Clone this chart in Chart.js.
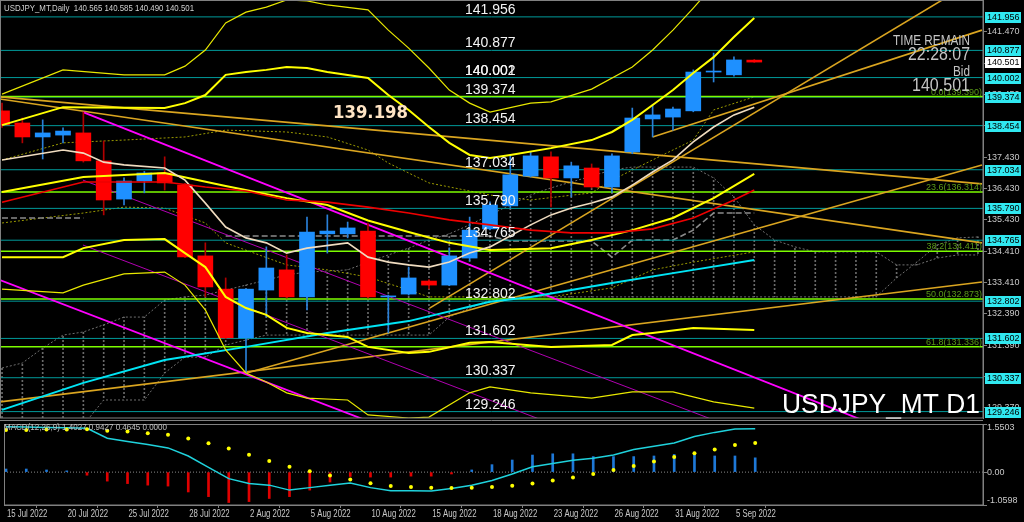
<!DOCTYPE html>
<html><head><meta charset="utf-8">
<script src="https://cdn.jsdelivr.net/npm/chart.js@4.4.0/dist/chart.umd.min.js"></script>
<style>
html,body{margin:0;padding:0;background:#000;width:1024px;height:522px;overflow:hidden}
canvas{position:absolute;left:0;display:block}
#c1{top:0}#c2{top:420px}
</style></head><body>
<canvas id="c1" width="1024" height="420"></canvas>
<canvas id="c2" width="1024" height="102"></canvas>
<script>
// ---------- DATA ----------
const dates = ['15 Jul 2022','18 Jul 2022','19 Jul 2022','20 Jul 2022','21 Jul 2022','22 Jul 2022','25 Jul 2022','26 Jul 2022','27 Jul 2022','28 Jul 2022','29 Jul 2022','1 Aug 2022','2 Aug 2022','3 Aug 2022','4 Aug 2022','5 Aug 2022','8 Aug 2022','9 Aug 2022','10 Aug 2022','11 Aug 2022','12 Aug 2022','15 Aug 2022','16 Aug 2022','17 Aug 2022','18 Aug 2022','19 Aug 2022','22 Aug 2022','23 Aug 2022','24 Aug 2022','25 Aug 2022','26 Aug 2022','29 Aug 2022','30 Aug 2022','31 Aug 2022','1 Sep 2022','2 Sep 2022','5 Sep 2022','6 Sep 2022'];
const dateTickIdx = [0,3,6,9,12,15,18,21,24,27,30,33,36];
const open  = [138.93,138.54,138.09,138.15,138.22,137.32,136.09,136.67,136.93,136.54,134.26,133.19,131.62,133.16,133.81,132.94,134.97,134.97,135.06,132.94,133.03,133.45,133.32,134.19,135.13,135.87,136.83,137.45,136.77,137.09,136.48,137.61,138.67,138.73,138.93,140.18,140.09,140.565];
const high  = [139.18,138.70,138.64,138.38,138.89,137.96,136.77,136.98,137.45,136.60,134.68,133.55,133.20,134.55,134.29,135.51,135.58,135.35,135.32,133.00,133.90,133.50,134.52,135.51,136.00,137.51,137.60,137.61,137.28,137.22,137.55,139.02,139.12,139.05,140.25,140.79,140.67,140.585];
const low   = [138.40,137.90,137.38,137.90,137.28,135.58,135.90,136.29,136.38,134.20,132.94,131.60,130.49,132.29,132.90,132.52,134.35,134.84,132.90,131.78,133.00,133.20,133.30,134.10,135.10,135.80,136.80,135.84,136.16,136.45,136.30,137.55,138.09,138.31,138.90,139.86,140.05,140.490];
const close = [138.48,138.09,138.22,138.28,137.32,136.06,136.67,136.93,136.61,134.23,133.26,131.62,133.19,133.87,132.94,135.03,135.06,135.16,132.94,132.97,133.55,133.32,134.26,135.09,135.90,136.87,137.48,136.77,137.16,136.48,137.48,138.70,138.80,138.99,140.18,140.21,140.57,140.501];

const levels = [141.956,140.877,140.002,139.374,138.454,137.034,135.790,134.765,132.802,131.602,130.337,129.246];
const levelTexts = ['141.956','140.877','140.002','139.374','138.454','137.034','135.790','134.765','132.802','131.602','130.337','129.246'];
const fibLevels = [139.390,136.314,134.411,132.873,131.336];
const fibNames = ['0.0','23.6','38.2','50.0','61.8'];
const yTicks = [141.470,140.450,139.450,138.450,137.430,136.430,135.430,134.410,133.410,132.390,131.390,130.370,129.370];
const bidPrice = 140.501;

// Bollinger bands [bar index, price]
const bbUp3 = [[0,139.47],[3,140.25],[6,140.09],[8,140.09],[9,140.37],[10,140.89],[11,141.76],[12,142.11],[13,142.27],[14,142.50],[15,142.47],[16,142.34],[18,142.18],[19,141.53],[20,140.95],[21,140.31],[22,139.60],[23,139.18],[24,138.89],[26,139.18],[27,139.22],[29,139.63],[31,140.34],[32,140.89],[33,141.53],[34,142.24],[35,142.98],[37,144.40]];
const bbUp2 = [[0,138.47],[3,139.05],[8,139.02],[9,139.18],[10,139.44],[11,140.09],[12,140.18],[13,140.25],[14,140.34],[15,140.31],[16,140.18],[18,139.99],[19,139.44],[20,138.96],[21,138.41],[22,137.90],[23,137.51],[24,137.41],[25,137.51],[27,137.73],[29,137.99],[30,138.25],[31,138.64],[32,139.12],[33,139.60],[34,140.15],[35,140.66],[36,141.31],[37,141.92]];
const bbMid = [[0,136.32],[4,136.80],[8,136.93],[11,136.51],[14,136.12],[16,135.90],[18,135.40],[20,135.03],[21,134.85],[22,134.68],[24,134.45],[27,134.51],[29,134.77],[31,135.09],[33,135.48],[35,136.12],[37,136.90]];
const bbLow2 = [[0,134.22],[3,134.22],[4,134.51],[6,134.77],[8,134.80],[9,134.35],[10,133.90],[11,132.94],[12,132.58],[13,132.36],[14,131.94],[15,131.78],[17,131.65],[18,131.33],[20,131.13],[21,131.17],[23,131.46],[24,131.49],[27,131.33],[30,131.39],[31,131.71],[32,131.78],[34,131.94],[37,131.87]];
const bbLow3 = [[0,133.19],[3,133.07],[4,133.32],[6,133.68],[8,133.74],[9,133.32],[10,132.52],[11,131.23],[12,130.49],[13,130.20],[14,129.85],[15,129.68],[17,129.62],[18,129.14],[20,129.04],[21,129.07],[23,129.85],[24,130.04],[26,129.85],[29,129.68],[31,129.88],[33,129.88],[35,129.56],[37,129.36]];
// moving averages
const maRed = [[0,135.99],[4,136.64],[8,136.64],[10,136.48],[12,136.35],[14,136.06],[16,135.99],[18,135.83],[20,135.64],[22,135.42],[24,135.26],[26,135.09],[28,135.00],[30,135.00],[32,135.13],[34,135.48],[36,136.06],[37,136.38]];
const maWhite = [[0,137.35],[3,137.67],[4,137.57],[5,137.28],[6,137.19],[8,137.09],[9,136.70],[10,135.96],[11,135.19],[12,134.84],[13,134.68],[14,134.35],[15,134.51],[17,134.68],[18,134.22],[19,134.06],[20,133.97],[21,133.90],[22,134.06],[23,134.35],[24,134.55],[26,135.26],[27,135.58],[28,135.80],[29,135.96],[30,136.16],[31,136.54],[32,136.96],[33,137.35],[34,137.93],[35,138.41],[36,138.80],[37,139.05]];
const maCyan = [[0,129.30],[4,130.17],[8,130.91],[12,131.33],[16,131.78],[20,132.16],[24,132.78],[26,132.94],[30,133.39],[34,133.81],[37,134.13]];
// ichimoku-like lines (null = hidden stretch)
const oliveUpper = [[0,137.35],[3,137.90],[6,137.99],[9,138.09],[11,138.31],[14,138.25],[16,138.09],[18,137.67],[19,137.25],[21,136.61],[24,136.22],[26,136.06],[29,136.29],[30,136.70],[32,137.35],[34,137.99],[35,138.96],[37,139.38]];
const oliveLower = [[0,135.32],[4,135.64],[6,135.83],[8,135.80],[10,135.32],[11,134.68],[14,133.97],[16,133.81],[18,133.58],[20,133.16],[21,132.94],[27,132.94],[30,133.23],[32,133.81],[34,134.06],[37,134.39]];
const kijun = [[0,135.48],[4,135.48],[7,null],[11,134.90],[24,134.90],[25,134.74],[29,134.74],[30,134.22],[31,134.77],[33,134.77],[34,135.09],[35,135.64],[37,135.64]];
const spanA = [128.81,128.81,128.81,128.81,128.81,129.62,129.62,129.62,130.49,131.00,131.00,131.39,131.55,131.71,131.71,131.71,131.71,131.71,131.71,131.71,131.71,131.71,132.29,132.58,132.84,132.94,132.94,132.94,132.94,132.94,132.94,132.94,132.94,132.94,132.94,132.94,132.94,132.94,132.94,132.94,132.94,132.94,132.94,132.94,133.55,134.06,134.61,134.84,134.87];
const spanB = [130.65,130.81,131.29,131.71,131.81,132.04,132.29,132.29,132.84,132.94,133.00,133.16,133.32,133.48,133.65,133.74,133.77,133.81,134.06,134.29,134.51,134.77,134.97,135.26,135.58,135.90,136.22,136.45,136.64,136.83,137.03,137.12,137.12,137.12,137.12,136.77,136.16,135.26,134.77,134.55,134.39,134.39,134.39,134.39,133.97,133.97,134.19,134.29,134.29];
// trend lines [bar index, price]
const goldLines = [
  [[-0.1,139.38],[48.2,136.58]],
  [[-0.1,139.31],[48.2,134.68]],
  [[-0.1,129.56],[48.2,133.42]],
  [[21.03,132.58],[48.2,143.27]],
  [[12.04,130.49],[48.2,137.19]],
  [[32.0,138.09],[48.2,141.53]]
];
const magentaThick = [ [[3.98,138.89],[48.2,127.45]], [[-0.1,133.48],[48.2,121.37]] ];
const magentaThin  = [ [[3.98,136.70],[48.2,125.69]], [[3.98,134.61],[48.2,123.57]] ];
// MACD
const macdMain = [1.46,1.45,1.44,1.43,1.41,1.09,0.99,0.89,0.78,0.52,0.15,-0.21,-0.37,-0.42,-0.58,-0.50,-0.42,-0.35,-0.50,-0.60,-0.60,-0.61,-0.53,-0.42,-0.27,-0.06,0.17,0.28,0.38,0.45,0.55,0.73,0.83,0.94,1.15,1.28,1.39,1.40];
const macdSignal = [1.36,1.36,1.37,1.37,1.38,1.33,1.31,1.25,1.20,1.08,0.93,0.76,0.56,0.36,0.17,0.03,-0.11,-0.24,-0.36,-0.45,-0.48,-0.50,-0.51,-0.50,-0.48,-0.44,-0.37,-0.27,-0.17,-0.06,0.07,0.20,0.34,0.49,0.61,0.73,0.87,0.94];
const macdHist = [0.10,0.10,0.07,0.04,-0.10,-0.29,-0.37,-0.42,-0.45,-0.64,-0.79,-0.98,-0.95,-0.85,-0.79,-0.58,-0.32,-0.14,-0.16,-0.16,-0.13,-0.13,-0.06,0.07,0.24,0.39,0.55,0.59,0.59,0.50,0.50,0.50,0.52,0.57,0.57,0.52,0.52,0.46];
const macdScaleLabels = [1.5503,0,-1.0598];
const macdScaleTexts = ['1.5503','0.00','-1.0598'];

// ---------- BUILD ----------
const X_MIN = -0.1, X_MAX = 48.25;
const FONT = 'Liberation Sans';
Chart.defaults.font.family = FONT;
const idx = open.map((_, i) => i);
const isUp = i => close[i] >= open[i];
const pts = a => a.map(p => ({x: p[0], y: p[1]}));
const flat = v => [{x: X_MIN, y: v}, {x: X_MAX, y: v}];
const lineDs = (data, color, width, order, dash) => ({type: 'line', data, borderColor: color, borderWidth: width, borderDash: dash || [], pointRadius: 0, tension: 0, order, fill: false, spanGaps: false});

const ctx1 = document.getElementById('c1').getContext('2d');
const pc = document.createElement('canvas'); pc.width = 1; pc.height = 4;
const pcx = pc.getContext('2d'); pcx.fillStyle = '#6a6a6a'; pcx.fillRect(0, 0, 1, 2);
const hatch = ctx1.createPattern(pc, 'repeat');

const ds1 = [];
ds1.push({type: 'bar', data: spanA.map((v, i) => ({x: i, y: [v, spanB[i]]})), backgroundColor: hatch, barThickness: 1, maxBarThickness: 1, grouped: false, order: 100});
ds1.push(lineDs(spanA.map((v, i) => ({x: i, y: v})), '#707070', 1, 99, [2, 2]));
ds1.push(lineDs(spanB.map((v, i) => ({x: i, y: v})), '#707070', 1, 99, [2, 2]));
ds1.push(lineDs(pts(oliveUpper), '#9a9a00', 1, 98, [2, 2]));
ds1.push(lineDs(pts(oliveLower), '#9a9a00', 1, 98, [2, 2]));
ds1.push(lineDs(pts(kijun), '#8a8a8a', 1.6, 97, [6, 3]));
levels.forEach(v => ds1.push(lineDs(flat(v), '#009a9a', 1, 90)));
fibLevels.forEach(v => ds1.push(lineDs(flat(v), '#7cfc00', 1.5, 89)));
goldLines.forEach(l => ds1.push(lineDs(pts(l), '#daa520', 1.6, 80)));
magentaThick.forEach(l => ds1.push(lineDs(pts(l), '#ff00ff', 1.8, 79)));
magentaThin.forEach(l => ds1.push(lineDs(pts(l), '#b000b0', 1, 79)));
ds1.push({type: 'bar', data: idx.map(i => ({x: i, y: [low[i], high[i]]})), backgroundColor: idx.map(i => isUp(i) ? '#2a80d8' : '#b00000'), barThickness: 1, maxBarThickness: 1, grouped: false, order: 60});
ds1.push({type: 'bar', data: idx.map(i => ({x: i, y: [open[i], close[i]]})), backgroundColor: idx.map(i => isUp(i) ? '#1e90ff' : '#ff0000'), barThickness: 15, maxBarThickness: 15, minBarLength: 1, grouped: false, order: 59});
ds1.push(lineDs(pts(maCyan), '#00e5f5', 2, 50));
ds1.push(lineDs(pts(bbUp3), '#e8e800', 1.2, 40));
ds1.push(lineDs(pts(bbLow3), '#e8e800', 1.2, 40));
ds1.push(lineDs(pts(bbUp2), '#ffff00', 2, 40));
ds1.push(lineDs(pts(bbMid), '#ffff00', 2, 40));
ds1.push(lineDs(pts(bbLow2), '#ffff00', 2, 40));
ds1.push(lineDs(pts(maRed), '#ee0000', 1.6, 30));
ds1.push(lineDs(pts(maWhite), '#f0dcc0', 1.6, 30));

function fitText(ctx, s, x, y, font, color, align, width, sxFixed) {
  ctx.save(); ctx.font = font; ctx.fillStyle = color; ctx.textAlign = align; ctx.textBaseline = 'alphabetic';
  const w = ctx.measureText(s).width; const sx = width ? width / w : (sxFixed || 1);
  ctx.translate(x, y); ctx.scale(sx, 1); ctx.fillText(s, 0, 0); ctx.restore();
}

const overlay1 = {
  id: 'overlay1',
  afterDraw(chart) {
    const c = chart.ctx, ys = chart.scales.y, a = chart.chartArea;
    c.save();
    levels.forEach((v, k) => {
      const py = ys.getPixelForValue(v) - 3;
      fitText(c, levelTexts[k], 465, py, '14px ' + FONT, '#f4f4f4', 'left');
      if (levelTexts[k] === '140.002') fitText(c, '140.001', 465, py, '14px ' + FONT, '#f4f4f4', 'left');
    });
    fibLevels.forEach((v, k) => {
      const py = ys.getPixelForValue(v) - 2;
      fitText(c, fibNames[k] + '(' + v.toFixed(3) + ')', a.right - 1, py, '9px ' + FONT, '#5a9a18', 'right');
    });
    fitText(c, '139.198', 333, 118, 'bold 18px "DejaVu Sans"', '#ffe4c4', 'left', 75);
    fitText(c, 'TIME REMAIN', 970, 45, '14px ' + FONT, '#c4c4c4', 'right', 77);
    fitText(c, '22:28:07', 970, 60, '18px ' + FONT, '#c4c4c4', 'right', 62);
    fitText(c, 'Bid', 970, 76, '15px ' + FONT, '#c4c4c4', 'right', 17);
    fitText(c, '140.501', 970, 91, '18px ' + FONT, '#c4c4c4', 'right', 58);
    fitText(c, 'USDJPY_MT D1', 980, 413, '28px ' + FONT, '#ffffff', 'right', 198);
    fitText(c, 'USDJPY_MT,Daily  140.565 140.585 140.490 140.501', 4, 11, '9px ' + FONT, '#d0d0d0', 'left', 190);
    const box = (v, txt, bg) => {
      const py = Math.round(ys.getPixelForValue(v));
      c.fillStyle = bg; c.fillRect(985, py - 5, 36, 11);
      c.fillStyle = '#000'; c.font = '9px ' + FONT; c.textAlign = 'left'; c.textBaseline = 'middle';
      c.fillText(txt, 987, py + 0.5);
    };
    levels.forEach((v, k) => box(v, levelTexts[k], '#30e8f0'));
    box(bidPrice, bidPrice.toFixed(3), '#ffffff');
    c.strokeStyle = '#808080'; c.lineWidth = 1;
    c.strokeRect(a.left + 0.5, a.top + 0.5, a.right - a.left - 0.5, a.bottom - a.top - 0.5);
    c.restore();
  }
};

new Chart(ctx1, {
  type: 'bar',
  data: {datasets: ds1},
  options: {
    responsive: false, animation: false, devicePixelRatio: 1, events: [],
    layout: {padding: {left: 0, right: 0, top: 0, bottom: 2}},
    plugins: {legend: {display: false}, tooltip: {enabled: false}},
    scales: {
      x: {type: 'linear', min: X_MIN, max: X_MAX, display: false, offset: false},
      y: {type: 'linear', position: 'right', min: 129.04, max: 142.50, beginAtZero: false,
        afterBuildTicks: s => { s.ticks = yTicks.map(v => ({value: v})); },
        afterFit: s => { s.width = 41; s.paddingTop = 0; s.paddingBottom = 0; },
        ticks: {autoSkip: false, padding: 0, color: '#c8c8c8', font: {family: FONT, size: 9}, callback: v => Number(v).toFixed(3)},
        grid: {drawOnChartArea: false, drawTicks: true, tickLength: 4, color: '#808080'},
        border: {display: true, color: '#808080'}}
    }
  },
  plugins: [overlay1]
});

// ---------- MACD ----------
const ds2 = [];
ds2.push(lineDs(flat(0), '#8a8a8a', 1, 90, [1, 2]));
ds2.push({type: 'bar', data: macdHist.map((v, i) => ({x: i, y: v})), backgroundColor: macdHist.map(v => v >= 0 ? '#1e78d7' : '#e00000'), barThickness: 2, maxBarThickness: 2, grouped: false, order: 60});
ds2.push(lineDs(macdMain.map((v, i) => ({x: i, y: v})), '#1fd2dc', 1.5, 40));
ds2.push({type: 'line', data: macdSignal.map((v, i) => ({x: i, y: v})), showLine: false, pointRadius: 2, pointBackgroundColor: '#ffff00', pointBorderWidth: 0, borderColor: '#ffff00', order: 30});

const overlay2 = {
  id: 'overlay2',
  afterDraw(chart) {
    const c = chart.ctx, ys = chart.scales.y, xs = chart.scales.x, a = chart.chartArea;
    c.save();
    c.strokeStyle = '#808080'; c.lineWidth = 1;
    c.strokeRect(a.left + 0.5, a.top + 0.5, a.right - a.left - 0.5, a.bottom - a.top - 0.5);
    c.beginPath(); c.moveTo(0, 0.5); c.lineTo(a.right, 0.5); c.stroke();
    c.font = '9px ' + FONT; c.fillStyle = '#c8c8c8'; c.textAlign = 'left'; c.textBaseline = 'middle';
    macdScaleLabels.forEach((v, k) => {
      let py = ys.getPixelForValue(v);
      c.beginPath(); c.moveTo(a.right, Math.round(py) + 0.5); c.lineTo(a.right + 4, Math.round(py) + 0.5); c.stroke();
      if (k === 0) py += 4; if (k === 2) py -= 4;
      c.fillText(macdScaleTexts[k], 987, py);
    });
    // date labels at the scale's tick positions (narrow MT4 style)
    dateTickIdx.forEach(v => {
      fitText(c, dates[v], xs.getPixelForValue(v) + 1, a.bottom + 12, '10px ' + FONT, '#c8c8c8', 'left', 0, 0.78);
    });
    fitText(c, 'MACD(12,26,9) 1.4027 0.9427 0.4645 0.0000', 4, 10, '9px ' + FONT, '#c0c0c0', 'left', 163);
    c.restore();
  }
};

new Chart(document.getElementById('c2').getContext('2d'), {
  type: 'bar',
  data: {datasets: ds2},
  options: {
    responsive: false, animation: false, devicePixelRatio: 1, events: [],
    layout: {padding: {left: 0, right: 0, top: 2, bottom: 0}},
    plugins: {legend: {display: false}, tooltip: {enabled: false}},
    scales: {
      x: {type: 'linear', min: X_MIN, max: X_MAX, offset: false, position: 'bottom',
        afterBuildTicks: s => { s.ticks = dateTickIdx.map(v => ({value: v})); },
        afterFit: s => { s.height = 17; s.paddingLeft = 0; s.paddingRight = 0; },
        ticks: {display: false},
        grid: {drawOnChartArea: false, drawTicks: true, tickLength: 3, color: '#808080'},
        border: {display: true, color: '#808080'}},
      y: {type: 'linear', position: 'right', min: -1.0598, max: 1.5503, beginAtZero: false,
        afterFit: s => { s.width = 41; s.paddingTop = 0; s.paddingBottom = 0; },
        ticks: {display: false},
        grid: {drawOnChartArea: false, drawTicks: false},
        border: {display: true, color: '#808080'}}
    }
  },
  plugins: [overlay2]
});
</script>
</body></html>
